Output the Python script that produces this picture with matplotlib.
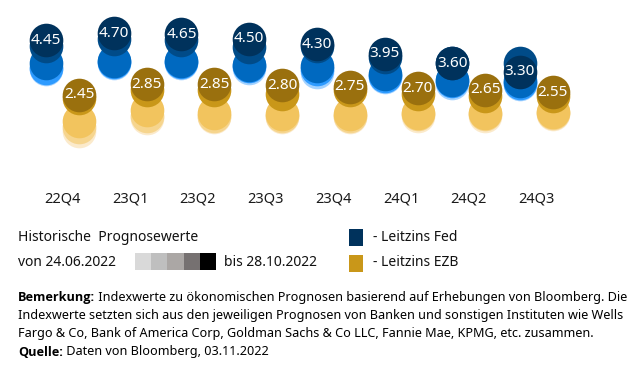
import matplotlib
matplotlib.use("Agg")
import matplotlib.pyplot as plt
from matplotlib.patches import Rectangle

plt.rcParams['font.family'] = ['Noto Sans', 'DejaVu Sans']

quarters = ["22Q4", "23Q1", "23Q2", "23Q3", "23Q4", "24Q1", "24Q2", "24Q3"]
dates = ["24.06.2022", "29.07.2022", "26.08.2022", "30.09.2022", "28.10.2022"]

# Fed forecasts, one list per forecast date (oldest first)
fed_0624 = [3.40, 3.60, 3.60, 3.45, 3.30, 3.10, 2.90, 2.85]
fed_0729 = [3.45, 3.65, 3.65, 3.50, 3.40, 3.15, 2.95, 2.90]
fed_0826 = [3.60, 3.70, 3.70, 3.55, 3.50, 3.20, 3.00, 2.95]
fed_0930 = [4.25, 4.50, 4.45, 4.20, 4.25, 3.85, 3.60, 3.60]
fed_1028 = [4.45, 4.70, 4.65, 4.50, 4.30, 3.95, 3.60, 3.30]

# ECB forecasts
ezb_0624 = [1.15, 1.60, 1.65, 1.65, 1.65, 1.70, 1.70, 1.75]
ezb_0729 = [1.30, 1.70, 1.70, 1.70, 1.70, 1.75, 1.75, 1.80]
ezb_0826 = [1.50, 1.90, 1.80, 1.75, 1.75, 1.80, 1.80, 1.85]
ezb_0930 = [2.35, 2.65, 2.65, 2.50, 2.65, 2.50, 2.40, 2.40]
ezb_1028 = [2.45, 2.85, 2.85, 2.80, 2.75, 2.70, 2.65, 2.55]

fed_series = [fed_0624, fed_0729, fed_0826, fed_0930, fed_1028]
ezb_series = [ezb_0624, ezb_0729, ezb_0826, ezb_0930, ezb_1028]

fed_colors = ["#A3D2FF", "#2E9BFF", "#0069C0", "#004B88", "#00325C"]
ezb_colors = ["#FBEACB", "#F6D58E", "#F2C45E", "#C99719", "#9A700E"]
gray_colors = ["#D9D9D9", "#BFBFBF", "#ABA7A5", "#767171", "#000000"]

W, H = 635, 366
fig = plt.figure(figsize=(W / 100, H / 100), dpi=100)

ax_bottom_px = 185
ax = fig.add_axes([0, 1 - ax_bottom_px / H, 1, ax_bottom_px / H])
px_per_cat = 67.7
x0 = (0 - 62.5) / px_per_cat
x1 = (W - 62.5) / px_per_cat
ax.set_xlim(x0, x1)
px_per_unit = 27.5
ax.set_ylim(4.45 - (ax_bottom_px - 40) / px_per_unit, 4.45 + 40 / px_per_unit)
for s in ax.spines.values():
    s.set_visible(False)
ax.set_yticks([])
ax.set_xticks(range(len(quarters)))
ax.set_xticklabels(quarters, fontsize=10.5, color="#1a1a1a")
ax.tick_params(axis='x', length=0, pad=4.5)

off = 16.5 / px_per_cat
xs = list(range(len(quarters)))
xf = [x - off for x in xs]
xe = [x + off for x in xs]
msize = 24.2 ** 2
for j in range(5):
    ax.scatter(xf, fed_series[j], s=msize, color=fed_colors[j], linewidths=0, zorder=2 + j, clip_on=False)
    ax.scatter(xe, ezb_series[j], s=msize, color=ezb_colors[j], linewidths=0, zorder=2 + j, clip_on=False)
for x, v in zip(xf, fed_1028):
    ax.text(x, v, f"{v:.2f}", color="white", fontsize=11, ha="center", va="center", zorder=20)
for x, v in zip(xe, ezb_1028):
    ax.text(x, v, f"{v:.2f}", color="white", fontsize=11, ha="center", va="center", zorder=20)

def fy(py):
    return 1 - py / H

def fx(px):
    return px / W

fig.text(fx(18), fy(237), "Historische  Prognosewerte", fontsize=10, va="center", ha="left", color="#111")
fig.text(fx(18), fy(262), "von " + dates[0], fontsize=10, va="center", ha="left", color="#111")
bx = 135
for c in gray_colors:
    fig.patches.append(Rectangle((fx(bx), fy(270)), 16.2 / W, 17 / H, transform=fig.transFigure,
                                 facecolor=c, edgecolor="none"))
    bx += 16.2
fig.text(fx(224), fy(262), "bis " + dates[-1], fontsize=10, va="center", ha="left", color="#111")

fig.patches.append(Rectangle((fx(349), fy(246)), 14 / W, 17 / H, transform=fig.transFigure,
                             facecolor=fed_colors[-1], edgecolor="none"))
fig.patches.append(Rectangle((fx(349), fy(272)), 14 / W, 17 / H, transform=fig.transFigure,
                             facecolor=ezb_colors[3], edgecolor="none"))
fig.text(fx(373), fy(237), "- Leitzins Fed", fontsize=10, va="center", ha="left", color="#111")
fig.text(fx(373), fy(262), "- Leitzins EZB", fontsize=10, va="center", ha="left", color="#111")

fs = 9.1
renderer = fig.canvas.get_renderer()
lines = [
    ("Bemerkung:", " Indexwerte zu ökonomischen Prognosen basierend auf Erhebungen von Bloomberg. Die"),
    ("", "Indexwerte setzten sich aus den jeweiligen Prognosen von Banken und sonstigen Instituten wie Wells"),
    ("", "Fargo & Co, Bank of America Corp, Goldman Sachs & Co LLC, Fannie Mae, KPMG, etc. zusammen."),
    ("Quelle:", " Daten von Bloomberg, 03.11.2022"),
]
ypx = 298
for bold, rest in lines:
    xpos = fx(18)
    if bold:
        t = fig.text(xpos, fy(ypx), bold, fontsize=fs, fontweight="bold", family=["Open Sans", "DejaVu Sans"],
                     va="center", ha="left", color="#000")
        bb = t.get_window_extent(renderer=renderer)
        xpos = bb.x1 / W
    fig.text(xpos, fy(ypx), rest, fontsize=fs, va="center", ha="left", color="#000")
    ypx += 18

fig.savefig("out.png", dpi=100)
